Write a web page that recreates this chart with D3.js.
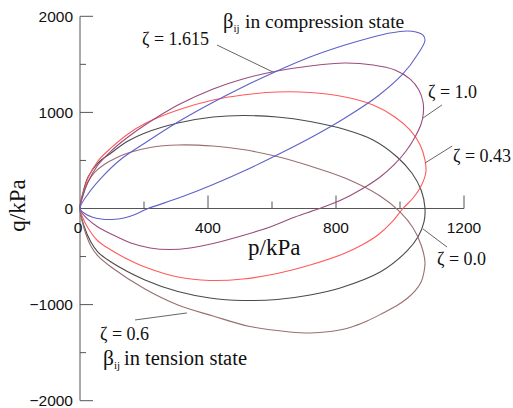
<!DOCTYPE html>
<html>
<head>
<meta charset="utf-8">
<script src="https://cdn.jsdelivr.net/npm/d3@7"></script>
<style>
  html, body { margin: 0; padding: 0; background: #fff; }
  svg { display: block; }
</style>
</head>
<body>
<svg id="chart" width="513" height="408"></svg>
<script>
// Stress paths in the p–q plane for several values of the parameter ζ
// Each loop is given as [p (kPa), q (kPa)] points, starting at the origin.
const zeta1615 = [[0,0],[12.5,-47],[37.5,-88],[66,-109],[100,-114],[137.5,-99],[172,-62],[209,-5],[312.5,114],[416,250],[519,401],[622,567],[725,744],[828,942],[931,1171],[1009,1400],[1056,1608],[1078,1748],[1072,1805],[1050,1837],[1022,1847],[969,1826],[916,1785],[828,1701],[719,1576],[616,1431],[509,1264],[406,1087],[306,900],[203,682],[125,505],[66,317],[25,151]];
const zeta10 = [[0,0],[9,130],[25,276],[56,453],[97,598],[150,744],[203,869],[306,1077],[416,1244],[509,1348],[616,1431],[719,1483],[828,1514],[916,1493],[984,1441],[1031,1348],[1059,1233],[1072,1108],[1073,994],[1066,879],[1047,744],[1019,598],[981,453],[938,328],[881,203],[816,88],[744,-5],[672,-88],[594,-192],[509,-281],[416,-364],[344,-411],[281,-427],[219,-411],[159,-359],[97,-265],[56,-193],[25,-114],[9,-57]];
const zeta043 = [[0,0],[9,140],[25,317],[56,494],[97,630],[150,775],[203,884],[306,1025],[416,1129],[509,1181],[616,1212],[719,1207],[828,1160],[916,1077],[984,952],[1031,817],[1063,661],[1078,505],[1081,380],[1066,234],[1041,109],[1009,0],[975,-140],[931,-276],[881,-380],[822,-473],[719,-588],[616,-676],[509,-734],[406,-749],[306,-713],[203,-609],[141,-515],[97,-432],[56,-338],[25,-203],[9,-99]];
const zeta00 = [[0,0],[9,161],[25,328],[56,473],[97,578],[150,702],[203,786],[306,890],[416,952],[509,968],[616,952],[719,905],[828,822],[916,713],[991,536],[1037,369],[1066,193],[1078,5],[1075,-140],[1056,-297],[1022,-442],[938,-661],[813,-827],[719,-900],[616,-947],[509,-957],[406,-931],[306,-864],[203,-744],[97,-557],[56,-453],[34,-349],[12.5,-182]];
const zeta06 = [[0,0],[9,151],[25,276],[47,380],[78,463],[112.5,526],[150,578],[219,635],[306,661],[416,650],[509,614],[616,541],[719,442],[828,317],[938,130],[1000,-36],[1041,-203],[1066,-380],[1078,-557],[1075,-661],[1066,-765],[1047,-858],[1022,-937],[988,-1015],[947,-1088],[897,-1171],[844,-1238],[781,-1280],[719,-1296],[656,-1285],[531,-1228],[416,-1119],[306,-1004],[203,-838],[97,-609],[56,-494],[34,-390],[12.5,-203]];

const xMajorTicks = [0, 400, 800, 1200];
const xMinorTicks = [200, 600, 1000];
const yMajorTicks = [2000, 1000, 0, -1000, -2000];
const yMinorTicks = [1500, 500, -500, -1500];

const svg = d3.select("#chart");
const x = d3.scaleLinear().domain([0, 1200]).range([80, 464]);
const y = d3.scaleLinear().domain([-2000, 2000]).range([400.7, 16.3]);

const axisColor = "#555";
const tickFont = "'Liberation Sans', Arial, sans-serif";
const serif = "'Liberation Serif', 'Times New Roman', serif";

// axes crossing at the origin
const ax = svg.append("g").attr("stroke", axisColor).attr("stroke-width", 1).attr("fill", "none");
ax.append("line").attr("x1", x(0)).attr("x2", x(0)).attr("y1", y(2000)).attr("y2", y(-2000));
ax.append("line").attr("x1", x(0)).attr("x2", x(1200)).attr("y1", y(0)).attr("y2", y(0));

// y ticks point right, x ticks point up
yMajorTicks.forEach(v => ax.append("line").attr("x1", x(0)).attr("x2", x(0) + 13).attr("y1", y(v)).attr("y2", y(v)));
yMinorTicks.forEach(v => ax.append("line").attr("x1", x(0)).attr("x2", x(0) + 6).attr("y1", y(v)).attr("y2", y(v)));
xMajorTicks.filter(v => v !== 0).forEach(v => ax.append("line").attr("x1", x(v)).attr("x2", x(v)).attr("y1", y(0)).attr("y2", y(0) - 13));
xMinorTicks.forEach(v => ax.append("line").attr("x1", x(v)).attr("x2", x(v)).attr("y1", y(0)).attr("y2", y(0) - 7));

const fmt = v => (v < 0 ? "\u2212" + Math.abs(v) : String(v));

svg.append("g").selectAll("text").data(yMajorTicks).join("text")
  .attr("x", x(0) - 7).attr("y", d => y(d)).attr("dy", "0.35em")
  .attr("text-anchor", "end").attr("font-family", tickFont).attr("font-size", 15.5)
  .attr("fill", "#111").text(fmt);

svg.append("g").selectAll("text").data(xMajorTicks).join("text")
  .attr("x", d => x(d) - (d === 0 ? 2 : 0)).attr("y", y(0) + 24)
  .attr("text-anchor", "middle").attr("font-family", tickFont).attr("font-size", 15.5)
  .attr("fill", "#111").text(fmt);

// axis titles
svg.append("text").attr("x", 248).attr("y", 255)
  .attr("font-family", serif).attr("font-size", 23).attr("fill", "#111").text("p/kPa");
svg.append("text").attr("transform", `translate(25,${y(0) - 3}) rotate(-90)`)
  .attr("text-anchor", "middle").attr("font-family", serif).attr("font-size", 23)
  .attr("fill", "#111").text("q/kPa");

// stress paths
const line = d3.line().x(d => x(d[0])).y(d => y(d[1])).curve(d3.curveCatmullRomClosed.alpha(0.5));
const series = [
  { data: zeta00, color: "#4a4a4a" },
  { data: zeta043, color: "#ff5a5a" },
  { data: zeta06, color: "#9a6e70" },
  { data: zeta10, color: "#9a4c7e" },
  { data: zeta1615, color: "#5e62c8" }
];
svg.append("g").selectAll("path").data(series).join("path")
  .attr("d", d => line(d.data)).attr("fill", "none")
  .attr("stroke", d => d.color).attr("stroke-width", 1.1);

// leader lines from labels to their curves
const leaders = [
  [[428, 1701], [603, 1420]],
  [[1131, 1077], [1072, 942]],
  [[1163, 650], [1078, 473]],
  [[1147, -401], [1072, -213]],
  [[172, -1160], [334, -1087]]
];
svg.append("g").selectAll("line").data(leaders).join("line")
  .attr("x1", d => x(d[0][0])).attr("y1", d => y(d[0][1]))
  .attr("x2", d => x(d[1][0])).attr("y2", d => y(d[1][1]))
  .attr("stroke", "#666").attr("stroke-width", 1);

// annotations
const notes = [
  { px: 142, py: 45, t: "\u03b6 = 1.615" },
  { px: 428, py: 98, t: "\u03b6 = 1.0" },
  { px: 453, py: 162, t: "\u03b6 = 0.43" },
  { px: 437, py: 265, t: "\u03b6 = 0.0" },
  { px: 100, py: 340, t: "\u03b6 = 0.6" }
];
svg.append("g").selectAll("text").data(notes).join("text")
  .attr("x", d => d.px).attr("y", d => d.py)
  .attr("font-family", serif).attr("font-size", 18).attr("fill", "#111").text(d => d.t);

function betaLabel(px, py, restX, size, rest) {
  const t = svg.append("text").attr("x", px).attr("y", py)
    .attr("font-family", serif).attr("font-size", size).attr("fill", "#111");
  t.append("tspan").attr("font-size", size + 1).text("\u03b2");
  t.append("tspan").attr("font-size", 11).attr("dy", 4).text("ij");
  t.append("tspan").attr("x", restX).attr("dy", -4).text(rest);
}
betaLabel(223, 28, 245, 19.5, "in compression state");
betaLabel(103, 365, 124, 20.5, "in tension state");
</script>
</body>
</html>
